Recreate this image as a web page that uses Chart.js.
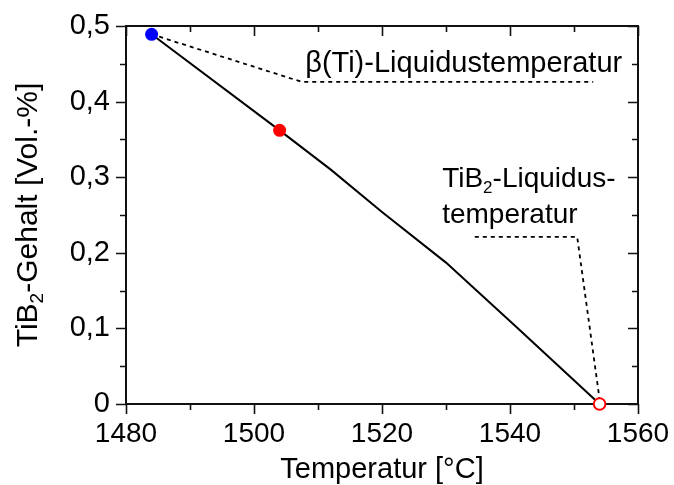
<!DOCTYPE html>
<html lang="de">
<head>
<meta charset="utf-8">
<title>TiB2-Gehalt über Temperatur</title>
<script src="https://cdn.jsdelivr.net/npm/chart.js@4/dist/chart.umd.min.js"></script>
<style>
  html, body { margin: 0; padding: 0; background: #fff; }
  #wrap { width: 674px; height: 485px; }
</style>
</head>
<body>
<div id="wrap"><canvas id="c" width="674" height="485"></canvas></div>
<script>
// Liquidus curve: TiB2 content vs. temperature
const temperatur = [1484, 1504, 1512, 1520, 1530, 1541, 1554];
const gehalt     = [0.489, 0.362, 0.31, 0.254, 0.187, 0.102, 0];

// Marked states on the curve
const betaTiLiquidus = [1484, 0.489];   // β(Ti) liquidus (blue)
const zwischenpunkt  = [1504, 0.362];   // intermediate state (red)
const tib2Liquidus   = [1554, 0];       // TiB2 liquidus (open red)

// Leader lines for the annotations (data coordinates)
const betaLeaderT = [1484, 1507.5, 1553];
const betaLeaderV = [0.489, 0.426, 0.426];
const tibLeaderT  = [1534.5, 1550.5, 1554];
const tibLeaderV  = [0.221, 0.221, 0.006];

// Axis ranges and tick steps
const xRange = [1480, 1560], xMajor = 20, xMinor = 10;
const yRange = [0, 0.5],     yMajor = 0.1, yMinor = 0.05;

const FONT = '"Liberation Sans", Arial, sans-serif';

const pts = (xs, ys) => xs.map((v, i) => ({ x: v, y: ys[i] }));

const frameAndTicks = {
  id: 'frameAndTicks',
  beforeDatasetsDraw(chart) {
    const { ctx, chartArea: a, scales: { x, y } } = chart;
    ctx.save();
    ctx.strokeStyle = '#111';
    ctx.lineWidth = 2;
    ctx.strokeRect(a.left, a.top, a.right - a.left, a.bottom - a.top);
    ctx.lineWidth = 1.6;
    ctx.beginPath();
    x.ticks.forEach(t => {
      const px = Math.round(x.getPixelForValue(t.value)) + 0.5;
      const major = Math.round(t.value) % xMajor === 0;
      const len = major ? 10 : 6;
      ctx.moveTo(px, a.bottom); ctx.lineTo(px, a.bottom + len);
      ctx.moveTo(px, a.top);    ctx.lineTo(px, a.top + len);
    });
    y.ticks.forEach(t => {
      const py = Math.round(y.getPixelForValue(t.value)) + 0.5;
      const major = Math.round(t.value * 100) % 10 === 0;
      const len = major ? 10 : 6;
      ctx.moveTo(a.left, py);  ctx.lineTo(a.left - len, py);
      ctx.moveTo(a.right, py); ctx.lineTo(a.right - len, py);
    });
    ctx.stroke();
    ctx.restore();
  },
  afterDraw(chart) {
    const { ctx, chartArea: a, scales: { x, y } } = chart;
    ctx.save();
    ctx.fillStyle = '#000';
    ctx.textBaseline = 'alphabetic';

    // text with subscript "2" after the given prefix
    const subText = (pre, sub, post, size) => {
      ctx.font = size + 'px ' + FONT;
      const w1 = ctx.measureText(pre).width;
      const w3 = ctx.measureText(post).width;
      ctx.font = Math.round(size * 0.62) + 'px ' + FONT;
      const w2 = ctx.measureText(sub).width;
      return {
        width: w1 + w2 + w3,
        draw(x0, y0) {
          ctx.font = size + 'px ' + FONT;
          ctx.fillText(pre, x0, y0);
          ctx.font = Math.round(size * 0.62) + 'px ' + FONT;
          ctx.fillText(sub, x0 + w1, y0 + size * 0.2);
          ctx.font = size + 'px ' + FONT;
          ctx.fillText(post, x0 + w1 + w2, y0);
        }
      };
    };

    // x-axis title
    ctx.font = '29px ' + FONT;
    ctx.textAlign = 'center';
    ctx.fillText('Temperatur [°C]', (a.left + a.right) / 2, 478);

    // y-axis title (rotated, with subscript)
    ctx.textAlign = 'left';
    const yt = subText('TiB', '2', '-Gehalt [Vol.-%]', 30);
    ctx.save();
    ctx.translate(37, (a.top + a.bottom) / 2);
    ctx.rotate(-Math.PI / 2);
    yt.draw(-yt.width / 2, 0);
    ctx.restore();

    // annotation: β(Ti)-Liquidustemperatur
    ctx.font = '29px ' + FONT;
    ctx.fillText('β(Ti)-Liquidustemperatur', x.getPixelForValue(1508), y.getPixelForValue(0.439));

    // annotation: TiB2-Liquidus-temperatur (two lines)
    const t1 = subText('TiB', '2', '-Liquidus-', 28);
    t1.draw(x.getPixelForValue(1529.4), y.getPixelForValue(0.287));
    ctx.font = '28px ' + FONT;
    ctx.fillText('temperatur', x.getPixelForValue(1529.4), y.getPixelForValue(0.239));
    ctx.restore();
  }
};

new Chart(document.getElementById('c'), {
  type: 'line',
  data: {
    datasets: [
      {
        label: 'β(Ti)-Liquidus',
        data: [{ x: betaTiLiquidus[0], y: betaTiLiquidus[1] }],
        showLine: false, pointRadius: 6.5, pointBackgroundColor: '#0000ff',
        pointBorderWidth: 0, pointBorderColor: '#0000ff', clip: false, order: 1
      },
      {
        label: 'Zwischenpunkt',
        data: [{ x: zwischenpunkt[0], y: zwischenpunkt[1] }],
        showLine: false, pointRadius: 6.5, pointBackgroundColor: '#ff0000',
        pointBorderWidth: 0, pointBorderColor: '#ff0000', clip: false, order: 1
      },
      {
        label: 'TiB2-Liquidus',
        data: [{ x: tib2Liquidus[0], y: tib2Liquidus[1] }],
        showLine: false, pointRadius: 5.8, pointBackgroundColor: '#ffffff',
        pointBorderWidth: 2, pointBorderColor: '#ff0000', clip: false, order: 1
      },
      {
        label: 'Liquiduslinie',
        data: pts(temperatur, gehalt),
        borderColor: '#000', borderWidth: 2, pointRadius: 0, tension: 0,
        fill: false, clip: false, order: 3
      },
      {
        label: 'Hinweis β(Ti)',
        data: pts(betaLeaderT, betaLeaderV),
        borderColor: '#000', borderWidth: 1.8, borderDash: [4, 4],
        pointRadius: 0, tension: 0, fill: false, clip: false, order: 4
      },
      {
        label: 'Hinweis TiB2',
        data: pts(tibLeaderT, tibLeaderV),
        borderColor: '#000', borderWidth: 1.8, borderDash: [4, 4],
        pointRadius: 0, tension: 0, fill: false, clip: false, order: 4
      }
    ]
  },
  options: {
    responsive: false,
    devicePixelRatio: 1,
    animation: false,
    events: [],
    layout: { padding: { top: 26, right: 36, left: 0, bottom: 0 } },
    plugins: { legend: { display: false }, tooltip: { enabled: false }, title: { display: false } },
    scales: {
      x: {
        type: 'linear', min: xRange[0], max: xRange[1],
        afterFit(s) { s.height = 81; },
        border: { display: false },
        grid: { display: true, drawOnChartArea: false, drawTicks: true, tickLength: 10, tickColor: 'rgba(0,0,0,0)' },
        ticks: {
          stepSize: xMinor, autoSkip: false, maxRotation: 0, padding: 3,
          color: '#000', font: { family: FONT, size: 28 },
          callback: v => (Math.round(v) % xMajor === 0 ? String(v) : '')
        },
        title: { display: false }
      },
      y: {
        type: 'linear', min: yRange[0], max: yRange[1],
        afterFit(s) { s.width = 126; },
        border: { display: false },
        grid: { display: true, drawOnChartArea: false, drawTicks: true, tickLength: 10, tickColor: 'rgba(0,0,0,0)' },
        ticks: {
          stepSize: yMinor, autoSkip: false, padding: 6,
          color: '#000', font: { family: FONT, size: 29 },
          callback: v => {
            const h = Math.round(v * 100);
            if (h % 10 !== 0) return '';
            return h === 0 ? '0' : (h / 100).toFixed(1).replace('.', ',');
          }
        },
        title: { display: false }
      }
    }
  },
  plugins: [frameAndTicks]
});
</script>
</body>
</html>
